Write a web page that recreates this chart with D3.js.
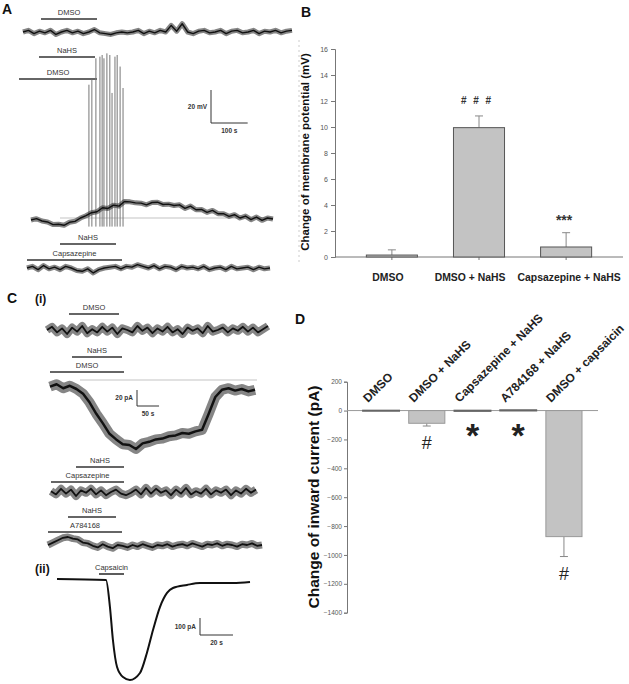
<!DOCTYPE html>
<html>
<head>
<meta charset="utf-8">
<script src="https://cdn.jsdelivr.net/npm/d3@7"></script>
<style>
body { margin: 0; background: #fff; }
text { font-family: Arial, "Liberation Sans", sans-serif; }
</style>
</head>
<body>
<svg width="629" height="684"></svg>
<script>
// ---- panel B data (membrane potential, mV)
var bCats = ["DMSO", "DMSO + NaHS", "Capsazepine + NaHS"];
var bMeans = [0.15, 9.95, 0.77];
var bErrs = [0.4, 0.9, 1.1];
var bMarks = ["", "# # #", "***"];
var bTicks = [0, 2, 4, 6, 8, 10, 12, 14, 16];

// ---- panel D data (inward current, pA)
var dCats = ["DMSO", "DMSO + NaHS", "Capsazepine + NaHS", "A784168 + NaHS", "DMSO + capsaicin"];
var dMeans = [-2, -88, -3, 3, -873];
var dErrs = [0, 19, 0, 0, 138];
var dMarks = ["", "#", "*", "*", "#"];
var dTicks = [200, 0, -200, -400, -600, -800, -1000, -1200, -1400];

// ---- traces, panel A (mV, deviation from baseline)
var a1 = [0,1,-1,0.5,-0.5,1,-1.5,0,1,-0.5,0.5,-1,0,1.5,-0.5,-1,-1.5,-0.5,0,-0.5,0,1,-1,0.5,-0.5,1,0,4,0.5,5,0,-1,0.5,1,-0.5,0,1,-1,0.5,1,-0.5,0,1,-1,0.5,0,1,-0.5,0.5,1];
var a2 = [0,0.8,-0.6,-1.2,-2.8,-2.6,-3.2,-1.4,-0.8,1.2,2.6,4.4,5,7.4,7,9,8.4,11.2,11,10.4,10.2,9.2,10.6,10.8,9.4,9.6,8.8,9.2,7,8.4,6.2,6.4,4.6,5.8,3.8,3.8,2.2,3.2,1.2,2.4,0.2,1.8,-0.2,1.2,0.6];
var a2Duration = 660; // s
var spikeTimes = [158, 166, 177, 188, 194, 199, 207, 215, 221, 229, 235, 243, 251];
var spikePeaks = [82, 85, 98, 99, 100, 98, 101, 100, 77, 99, 100, 93, 80];
var a3 = [0,1,-1,1.5,-0.5,0.5,-1,1,0,-1.5,-2,-0.5,-3,-1,0,0.5,1,-0.5,1,0.5,2,1,0,1.5,-0.5,1,0.5,-1,1,0,0.5,-0.5,1,-1,0,0.5,-1,1,-0.5,0,0.5,-1,0.5,-0.5,0];

// ---- traces, panel C (pA)
var c1 = [0,4,-3,2,-5,3,-2,5,-4,1,-3,4,-2,3,-5,2,0,-3,5,-1,3,-4,2,-2,4,-3,1,-5,3,-1,2,-4,5,-2,0,3,-3,2,-1,4,-2,3,-3,1,5];
var c2 = [-2,1,-4,-1,-5,-11,-22,-36,-48,-61,-68,-74,-75,-80,-73,-71,-68,-67,-64,-63,-60,-61,-58,-56,-36,-15,-6,-4,-7,-5,-8,-6];
var c2Duration = 465; // s
var c3 = [1,-3,4,-2,3,-5,2,-1,4,-3,2,-4,0,3,-2,-4,-1,3,-3,5,-2,4,-1,2,-4,3,-2,5,-3,1,-2,4,-3,2,-1,3,-4,2,-2,4,-1,3];
var c4 = [0,3,6,9,10,8,7,3,2,-1,-3,1,-2,-4,0,-1,-3,0,-2,1,-1,-3,0,-1,1,-2,0,1,-1,2,0,-2,1,0,2,-1,1,0,-2,1,0,2,-1,0];
var capT = [0, 29.7, 32.1, 33.9, 36.4, 40, 44.2, 50.3, 54.5, 58.2, 62.4, 66.7, 70.3, 78.8, 86.7, 97, 106.7, 117];
var capV = [6, 0, -159, -353, -512, -571, -588, -547, -429, -294, -159, -76, -47, -29, -18, -18, -18, -12];

var svg = d3.select("svg");

function txt(g, x, y, s, size, opt) {
  opt = opt || {};
  return g.append("text")
    .attr("x", x).attr("y", y)
    .attr("font-size", size)
    .attr("font-weight", opt.weight || "normal")
    .attr("fill", opt.fill || "#222")
    .attr("text-anchor", opt.anchor || "start")
    .text(s);
}

// noisy trace drawn as a soft band plus a line on top
function trace(g, vals, x0, x1, y0, k, band, w) {
  var x = d3.scaleLinear().domain([0, vals.length - 1]).range([x0, x1]);
  var y = d3.scaleLinear().domain([0, 1]).range([y0, y0 - k]);
  var line = d3.line().x(function(d, i) { return x(i); }).y(function(d) { return y(d); });
  if (band) {
    g.append("path").attr("d", line(vals)).attr("fill", "none")
      .attr("stroke", "#333").attr("stroke-opacity", 0.6)
      .attr("stroke-width", band).attr("stroke-linejoin", "round");
  }
  g.append("path").attr("d", line(vals)).attr("fill", "none")
    .attr("stroke", "#111").attr("stroke-width", w).attr("stroke-linejoin", "round");
}

function drug(g, x0, x1, y, s) {
  g.append("line").attr("x1", x0).attr("x2", x1).attr("y1", y).attr("y2", y)
    .attr("stroke", "#333").attr("stroke-width", 1.6);
  txt(g, (x0 + x1) / 2, y - 4, s, 7.5, { anchor: "middle", fill: "#333" });
}

function scaleBar(g, x, y, w, h, vs, hs) {
  g.append("path").attr("d", "M" + x + "," + (y - h) + "V" + y + "H" + (x + w))
    .attr("fill", "none").attr("stroke", "#333").attr("stroke-width", 1);
  txt(g, x - 4, y - h / 2 + 2, vs, 6.5, { anchor: "end", fill: "#333", weight: "bold" });
  txt(g, x + w / 2, y + 10, hs, 6.5, { anchor: "middle", fill: "#333", weight: "bold" });
}

// ================= Panel A
var gA = svg.append("g");
txt(gA, 2, 14, "A", 14, { weight: "bold", fill: "#111" });
gA.append("line").attr("x1", 299).attr("x2", 299).attr("y1", 40).attr("y2", 265)
  .attr("stroke", "#ccc").attr("stroke-dasharray", "2,3");

var mvK = 1.65; // px per mV
drug(gA, 41, 97, 19, "DMSO");
trace(gA, a1, 23, 292, 32, mvK, 5, 1.4);

drug(gA, 39, 95, 57, "NaHS");
drug(gA, 19, 97, 79, "DMSO");
var xA2 = d3.scaleLinear().domain([0, a2Duration]).range([31, 273]);
var yA2 = d3.scaleLinear().domain([0, 1]).range([220, 220 - mvK]);
gA.append("line").attr("x1", 60).attr("x2", 273).attr("y1", 218).attr("y2", 218)
  .attr("stroke", "#aaa").attr("stroke-width", 0.7);
gA.selectAll(".spike").data(spikeTimes).enter().append("line")
  .attr("class", "spike")
  .attr("x1", function(d) { return xA2(d); }).attr("x2", function(d) { return xA2(d); })
  .attr("y1", yA2(-4))
  .attr("y2", function(d, i) { return yA2(spikePeaks[i]); })
  .attr("stroke", "#777").attr("stroke-width", 1);
trace(gA, a2, 31, 273, 220, mvK, 5, 1.4);
scaleBar(gA, 211, 123, xA2(100) - xA2(0), 20 * mvK, "20 mV", "100 s");

drug(gA, 60, 116, 244, "NaHS");
drug(gA, 27, 122, 260, "Capsazepine");
trace(gA, a3, 27, 270, 268, mvK, 5, 1.4);

// ================= Panel B
var gB = svg.append("g");
txt(gB, 301, 17, "B", 14, { weight: "bold", fill: "#111" });
var yB = d3.scaleLinear().domain([0, 16]).range([257, 49]);
var xB = d3.scaleBand().domain(bCats).range([335, 623]).paddingInner(0.414).paddingOuter(0.36);

gB.append("g").attr("transform", "translate(335,0)")
  .call(d3.axisLeft(yB).tickValues(bTicks).tickSize(4).tickPadding(3))
  .call(function(a) {
    a.selectAll("path,line").attr("stroke", "#777");
    a.selectAll("text").attr("font-size", 7).attr("fill", "#555").attr("font-family", null);
  });
gB.append("g").attr("transform", "translate(0,257)")
  .call(d3.axisBottom(xB).tickSize(3).tickSizeOuter(0).tickPadding(14))
  .call(function(a) {
    a.select(".domain").attr("d", "M335,0H623");
    a.selectAll("path,line").attr("stroke", "#777");
    a.selectAll("text").attr("font-size", 10.4).attr("font-weight", "bold")
      .attr("fill", "#222").attr("font-family", null)
      .attr("dx", function(d, i) { return [-4, -9, 3][i]; });
  });

gB.selectAll(".errB").data(bCats).enter().append("path")
  .attr("class", "errB")
  .attr("d", function(d, i) {
    var cx = xB(d) + xB.bandwidth() / 2, top = yB(bMeans[i] + bErrs[i]);
    return "M" + cx + "," + yB(bMeans[i]) + "V" + top + "M" + (cx - 4) + "," + top + "H" + (cx + 4);
  })
  .attr("stroke", "#888").attr("stroke-width", 1).attr("fill", "none");
gB.selectAll(".barB").data(bCats).enter().append("rect")
  .attr("class", "barB")
  .attr("x", function(d) { return xB(d); })
  .attr("width", xB.bandwidth())
  .attr("y", function(d, i) { return yB(bMeans[i]); })
  .attr("height", function(d, i) { return yB(0) - yB(bMeans[i]); })
  .attr("fill", "#c3c3c3").attr("stroke", "#555").attr("stroke-width", 1);
gB.selectAll(".markB").data(bCats).enter().append("text")
  .attr("class", "markB")
  .attr("x", function(d) { return xB(d) + xB.bandwidth() / 2 - 2; })
  .attr("y", function(d, i) { return i === 1 ? 104 : 225; })
  .attr("text-anchor", "middle")
  .attr("font-size", function(d, i) { return i === 1 ? 10 : 14; })
  .attr("font-weight", "bold")
  .attr("letter-spacing", function(d, i) { return i === 1 ? 2 : 0; })
  .attr("fill", "#333")
  .text(function(d, i) { return bMarks[i]; });
txt(gB, 0, 0, "Change of membrane potential (mV)", 11.5, { weight: "bold", anchor: "middle", fill: "#111" })
  .attr("transform", "translate(309,152) rotate(-90)");

// ================= Panel C
var gC = svg.append("g");
txt(gC, 7, 303, "C", 14, { weight: "bold", fill: "#111" });
txt(gC, 35, 303, "(i)", 12, { weight: "bold", fill: "#111" });
var paK = 0.8; // px per pA
drug(gC, 69, 119, 314, "DMSO");
trace(gC, c1, 47, 268, 330, paK, 8, 1.8);

drug(gC, 72, 122, 357, "NaHS");
drug(gC, 50, 124, 372, "DMSO");
gC.append("line").attr("x1", 80).attr("x2", 257).attr("y1", 380).attr("y2", 380)
  .attr("stroke", "#aaa").attr("stroke-width", 0.7);
trace(gC, c2, 50, 255, 385, paK, 10, 2.5);
scaleBar(gC, 137, 406, 50 * 205 / c2Duration, 20 * paK, "20 pA", "50 s");

drug(gC, 76, 124, 467, "NaHS");
drug(gC, 51, 124, 482, "Capsazepine");
trace(gC, c3, 51, 256, 492, paK, 8, 1.8);

drug(gC, 68, 116, 517, "NaHS");
drug(gC, 48, 122, 532, "A784168");
trace(gC, c4, 48, 262, 545, paK, 7, 1.8);

txt(gC, 35, 573, "(ii)", 12, { weight: "bold", fill: "#111" });
drug(gC, 99, 124, 574, "Capsaicin");
var xC5 = d3.scaleLinear().domain([0, 117]).range([57, 250]);
var yC5 = d3.scaleLinear().domain([0, 100]).range([580, 563]);
gC.append("path")
  .attr("d", d3.line().curve(d3.curveMonotoneX)
    .x(function(d) { return xC5(d); })
    .y(function(d, i) { return yC5(capV[i]); })(capT))
  .attr("fill", "none").attr("stroke", "#111").attr("stroke-width", 2);
scaleBar(gC, 200, 635, xC5(20) - xC5(0), yC5(0) - yC5(100), "100 pA", "20 s");

// ================= Panel D
var gD = svg.append("g");
txt(gD, 295, 324, "D", 14, { weight: "bold", fill: "#111" });
var yD = d3.scaleLinear().domain([-1400, 200]).range([612.7, 381.7]);
var xD = d3.scaleBand().domain(dCats).range([347, 598]).paddingInner(0.21).paddingOuter(0.35);

gD.append("g").attr("transform", "translate(347,0)")
  .call(d3.axisLeft(yD).tickValues(dTicks).tickSize(3).tickPadding(2).tickFormat(d3.format("d")))
  .call(function(a) {
    a.selectAll("path,line").attr("stroke", "#777");
    a.selectAll("text").attr("font-size", 6.5).attr("fill", "#555").attr("font-family", null);
  });
gD.append("line").attr("x1", 347).attr("x2", 598).attr("y1", yD(0)).attr("y2", yD(0))
  .attr("stroke", "#999").attr("stroke-width", 1);

gD.selectAll(".errD").data(dCats).enter().append("path")
  .attr("class", "errD")
  .attr("d", function(d, i) {
    if (!dErrs[i]) return null;
    var cx = xD(d) + xD.bandwidth() / 2, bot = yD(dMeans[i] - dErrs[i]);
    return "M" + cx + "," + yD(dMeans[i]) + "V" + bot + "M" + (cx - 4) + "," + bot + "H" + (cx + 4);
  })
  .attr("stroke", "#888").attr("stroke-width", 1).attr("fill", "none");
gD.selectAll(".barD").data(dCats).enter().append("rect")
  .attr("class", "barD")
  .attr("x", function(d) { return xD(d); })
  .attr("width", xD.bandwidth())
  .attr("y", function(d, i) { return Math.min(yD(0), yD(dMeans[i])); })
  .attr("height", function(d, i) { return Math.abs(yD(dMeans[i]) - yD(0)); })
  .attr("fill", "#c3c3c3")
  .attr("stroke", function(d, i) { return Math.abs(dMeans[i]) < 10 ? "#666" : "#999"; })
  .attr("stroke-width", function(d, i) { return Math.abs(dMeans[i]) < 10 ? 1.8 : 1; });

gD.selectAll(".catD").data(dCats).enter().append("text")
  .attr("class", "catD")
  .attr("transform", function(d) {
    return "translate(" + (xD(d) + xD.bandwidth() / 2 - 13) + ",403) rotate(-45)";
  })
  .attr("font-size", 12).attr("font-weight", "bold").attr("fill", "#222")
  .text(function(d) { return d; });

gD.selectAll(".markD").data(dCats).enter().append("text")
  .attr("class", "markD")
  .attr("x", function(d) { return xD(d) + xD.bandwidth() / 2; })
  .attr("y", function(d, i) {
    if (dMarks[i] === "*") return 447;
    return yD(dMeans[i] - dErrs[i]) + 23;
  })
  .attr("text-anchor", "middle")
  .attr("font-size", function(d, i) { return dMarks[i] === "*" ? 34 : 18; })
  .attr("font-weight", function(d, i) { return dMarks[i] === "*" ? "bold" : "normal"; })
  .attr("fill", "#222")
  .text(function(d, i) { return dMarks[i]; });

txt(gD, 0, 0, "Change of inward current (pA)", 15.5, { weight: "bold", anchor: "middle", fill: "#111" })
  .attr("transform", "translate(319,497) rotate(-90)");
</script>
</body>
</html>
